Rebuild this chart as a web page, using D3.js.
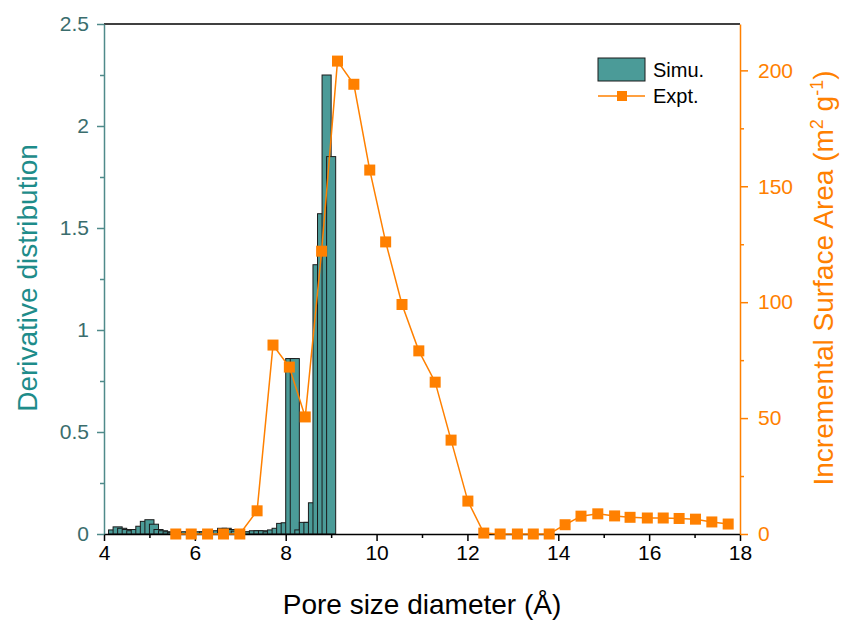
<!DOCTYPE html>
<html>
<head>
<meta charset="utf-8">
<script src="https://cdn.jsdelivr.net/npm/d3@7"></script>
<style>
  html, body { margin: 0; padding: 0; background: #fff; overflow: hidden; }
  svg { display: block; }
  svg text { font-family: "Liberation Sans", Arial, sans-serif; }
</style>
</head>
<body>
<svg id="chart" width="841" height="624"></svg>
<script>
// Simulated pore size distribution (bar centres in Å, bars are 0.2 Å wide and overlap)
const simuPore = [4.2, 4.3, 4.4, 4.5, 4.6, 4.7, 4.8, 4.9, 5.0,
    5.1, 5.2, 5.3, 5.4, 5.5, 5.6, 5.7, 5.8, 5.9, 6.0,
    6.1, 6.2, 6.3, 6.4, 6.5, 6.6, 6.7, 6.8, 6.9, 7.0,
    7.1, 7.2, 7.3, 7.4, 7.5, 7.6, 7.7, 7.8, 7.9, 8.0,
    8.1, 8.2, 8.3, 8.4, 8.5, 8.6, 8.7, 8.8, 8.9, 9.0];
const simuDeriv = [0.02, 0.035, 0.028, 0.022, 0.016, 0.022, 0.038, 0.062, 0.07,
    0.048, 0.022, 0.016, 0.011, 0.008, 0.01, 0.008, 0.011, 0.01, 0.008,
    0.011, 0.01, 0.012, 0.01, 0.016, 0.028, 0.028, 0.022, 0.014, 0.012,
    0.01, 0.011, 0.016, 0.016, 0.016, 0.011, 0.02, 0.028, 0.052, 0.055,
    0.86, 0.86, 0.02, 0.057, 0.057, 0.153, 1.32, 1.57, 2.25, 1.85];

// Experimental incremental surface area
const exptPore = [5.58, 5.92, 6.28, 6.63, 6.99, 7.37, 7.72, 8.08, 8.43, 8.79,
    9.14, 9.5, 9.85, 10.2, 10.56, 10.93, 11.29, 11.64, 12.01, 12.36,
    12.72, 13.1, 13.45, 13.8, 14.15, 14.5, 14.87, 15.24, 15.58, 15.96,
    16.31, 16.66, 17.02, 17.38, 17.74];
const exptArea = [0, 0, 0, 0, 0, 10, 81.5, 72, 50.5, 122,
    204, 194, 157, 126, 99, 79, 65.5, 40.5, 14.2, 0.4,
    0, 0, 0, 0, 4, 7.7, 8.7, 7.8, 7.2, 6.9,
    6.9, 6.7, 6.4, 5.2, 4.3];

// Tick values
const xMajor = [4, 6, 8, 10, 12, 14, 16, 18];
const xMinor = [5, 7, 9, 11, 13, 15, 17];
const yLeftMajor = [0, 0.5, 1, 1.5, 2, 2.5];
const yLeftMinor = [0.25, 0.75, 1.25, 1.75, 2.25];
const yRightMajor = [0, 50, 100, 150, 200];
const yRightMinor = [25, 75, 125, 175];

const teal = "#4b9b98";
const tealText = "#1e8c8a";
const tealTick = "#3a6d6d";
const orange = "#ff8000";
const fontFam = "Liberation Sans, Arial, sans-serif";

const svg = d3.select("#chart");
const margin = { top: 24, right: 101, bottom: 90, left: 104 };
const innerWidth = 841 - margin.left - margin.right;
const innerHeight = 624 - margin.top - margin.bottom;

const g = svg.append("g")
    .attr("transform", `translate(${margin.left}, ${margin.top})`);

// Scales
const xScale = d3.scaleLinear().domain([4, 18]).range([0, innerWidth]);
const yLeft = d3.scaleLinear().domain([0, 2.5]).range([innerHeight, 0]);
const yRight = d3.scaleLinear().domain([0, 220]).range([innerHeight, 0]);

// Bars, drawn in order so each one sits over the right half of the previous
const simuData = simuPore.map((p, i) => ({ p: p, v: simuDeriv[i] }));
const barW = xScale(0.2) - xScale(0);
g.append("g").selectAll("rect")
    .data(simuData)
    .enter()
    .append("rect")
    .attr("x", d => xScale(d.p) - barW / 2)
    .attr("y", d => yLeft(d.v))
    .attr("width", barW)
    .attr("height", d => innerHeight - yLeft(d.v))
    .attr("fill", teal)
    .attr("stroke", "#1b1b1b")
    .attr("stroke-width", 1);

// Top frame line
g.append("line")
    .attr("x1", 0).attr("x2", innerWidth)
    .attr("y1", 0).attr("y2", 0)
    .attr("stroke", "#000").attr("stroke-width", 1.5);

// helper to style an axis group's text
function styleText(sel, color) {
    sel.attr("font-family", fontFam).attr("font-size", 21);
    sel.selectAll("text")
        .attr("font-family", fontFam)
        .attr("font-size", 21)
        .attr("fill", color);
}

// X axis
const gx = g.append("g")
    .attr("transform", `translate(0, ${innerHeight})`)
    .call(d3.axisBottom(xScale).tickValues(xMajor).tickSize(7).tickSizeOuter(0).tickPadding(4));
const gxMinor = g.append("g")
    .attr("transform", `translate(0, ${innerHeight})`)
    .call(d3.axisBottom(xScale).tickValues(xMinor).tickSize(4).tickFormat(""));
gxMinor.select(".domain").remove();
gxMinor.selectAll("text").remove();
styleText(gx, "#000");
gx.selectAll(".domain, .tick line").attr("stroke-width", 1.5);
gxMinor.selectAll(".tick line").attr("stroke-width", 1.5);

// Left axis
const gl = g.append("g")
    .call(d3.axisLeft(yLeft).tickValues(yLeftMajor).tickFormat(d => String(d))
        .tickSize(7).tickSizeOuter(0).tickPadding(8));
const glMinor = g.append("g")
    .call(d3.axisLeft(yLeft).tickValues(yLeftMinor).tickSize(4).tickFormat(""));
glMinor.select(".domain").remove();
glMinor.selectAll("text").remove();
styleText(gl, tealTick);
gl.selectAll(".domain, .tick line").attr("stroke", "#4f8a8a").attr("stroke-width", 1.5);
glMinor.selectAll(".tick line").attr("stroke", "#4f8a8a").attr("stroke-width", 1.5);

// Right axis
const gr = g.append("g")
    .attr("transform", `translate(${innerWidth}, 0)`)
    .call(d3.axisRight(yRight).tickValues(yRightMajor).tickSize(8).tickSizeOuter(0).tickPadding(10));
const grMinor = g.append("g")
    .attr("transform", `translate(${innerWidth}, 0)`)
    .call(d3.axisRight(yRight).tickValues(yRightMinor).tickSize(4).tickFormat(""));
grMinor.select(".domain").remove();
grMinor.selectAll("text").remove();
styleText(gr, orange);
gr.selectAll(".domain, .tick line").attr("stroke", orange).attr("stroke-width", 1.5);
grMinor.selectAll(".tick line").attr("stroke", orange).attr("stroke-width", 1.5);

// Experimental line + square markers
const exptData = exptPore.map((p, i) => ({ p: p, v: exptArea[i] }));
g.append("path")
    .datum(exptData)
    .attr("fill", "none")
    .attr("stroke", orange)
    .attr("stroke-width", 1.5)
    .attr("d", d3.line().x(d => xScale(d.p)).y(d => yRight(d.v)));
const sq = 11;
g.append("g").selectAll("rect")
    .data(exptData)
    .enter()
    .append("rect")
    .attr("x", d => xScale(d.p) - sq / 2)
    .attr("y", d => yRight(d.v) - sq / 2)
    .attr("width", sq)
    .attr("height", sq)
    .attr("fill", orange);

// Axis titles
svg.append("text")
    .attr("x", 422).attr("y", 614)
    .attr("text-anchor", "middle")
    .attr("font-size", 28)
    .attr("fill", "#000")
    .text("Pore size diameter (Å)");

svg.append("text")
    .attr("transform", "translate(37, 278) rotate(-90)")
    .attr("text-anchor", "middle")
    .attr("font-size", 28)
    .attr("fill", tealText)
    .text("Derivative distribution");

const rt = svg.append("text")
    .attr("transform", "translate(833, 278) rotate(-90)")
    .attr("text-anchor", "middle")
    .attr("font-size", 28)
    .attr("fill", orange);
rt.append("tspan").text("Incremental Surface Area (m");
rt.append("tspan").attr("font-size", 18).attr("dy", -10).text("2");
rt.append("tspan").attr("dy", 10).text(" g");
rt.append("tspan").attr("font-size", 18).attr("dy", -10).text("-1");
rt.append("tspan").attr("dy", 10).text(")");

// Legend
const legend = svg.append("g");
legend.append("rect")
    .attr("x", 598).attr("y", 58)
    .attr("width", 47).attr("height", 23)
    .attr("fill", teal).attr("stroke", "#1b1b1b").attr("stroke-width", 1);
legend.append("text")
    .attr("x", 653).attr("y", 77)
    .attr("font-size", 20)
    .text("Simu.");
legend.append("line")
    .attr("x1", 598).attr("x2", 645)
    .attr("y1", 96).attr("y2", 96)
    .attr("stroke", orange).attr("stroke-width", 1.5);
legend.append("rect")
    .attr("x", 617).attr("y", 91)
    .attr("width", 10).attr("height", 10)
    .attr("fill", orange);
legend.append("text")
    .attr("x", 653).attr("y", 103)
    .attr("font-size", 20)
    .text("Expt.");
</script>
</body>
</html>
